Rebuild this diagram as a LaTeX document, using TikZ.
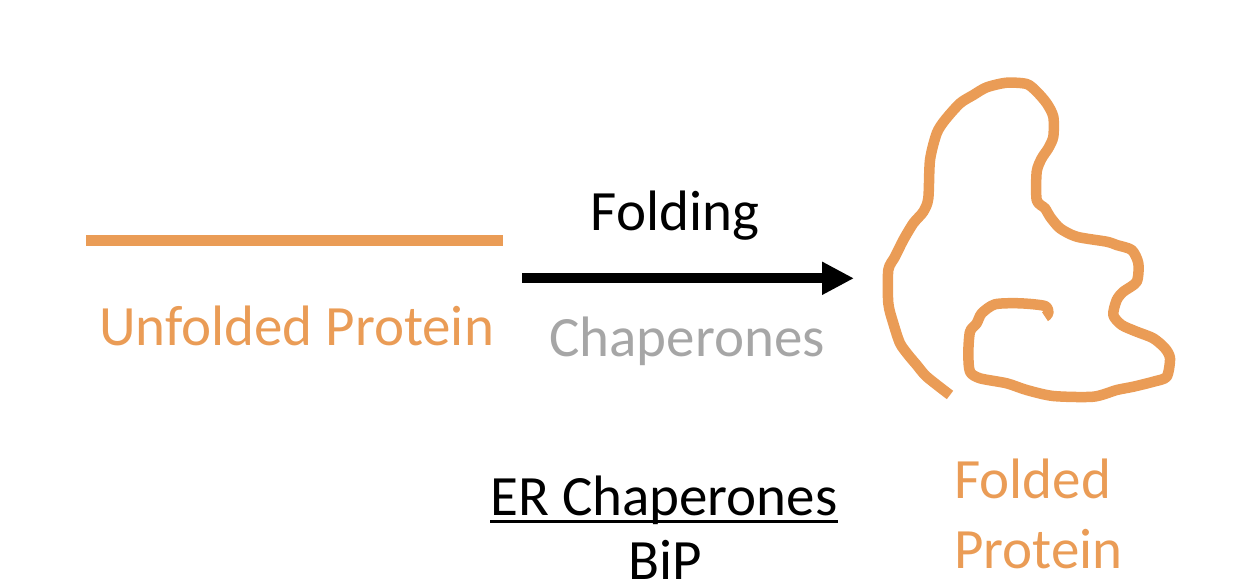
\documentclass[tikz,border=0pt]{standalone}
\usepackage{fontspec}
\setmainfont{Carlito}
\usetikzlibrary{arrows.meta}
\definecolor{protorange}{RGB}{234,156,86}
\definecolor{chapgray}{RGB}{166,166,166}
\tikzset{
  bigtext/.style={inner sep=0pt, font=\fontsize{57}{68}\selectfont},
  protein/.style={draw=protorange, line width=10.5pt, line join=round},
  reaction/.style={draw=black, line width=10pt, -{Triangle[length=32pt,width=31pt]}},
}
\begin{document}
\begin{tikzpicture}[x=1pt,y=-1pt]
\useasboundingbox (0,0) rectangle (1238,584);
% unfolded protein
\coordinate (u1) at (86,240.4);
\coordinate (u2) at (502.7,240.4);
\draw[protein] (u1) -- (u2);
\node[bigtext, text=protorange, anchor=base] (unf) at (296.5,345) {Unfolded Protein};
% reaction arrow
\coordinate (a1) at (522,278.3);
\coordinate (a2) at (854,278.3);
\draw[reaction] (a1) -- (a2);
\node[bigtext, anchor=base] (fold) at (675,230) {Folding};
\node[bigtext, text=chapgray, anchor=base] (chap) at (687,356.7) {Chaperones};
% ER chaperones
\node[bigtext, anchor=base] (er) at (664,515) {ER Chaperones};
\draw[line width=3pt] ([yshift=-6.5pt]er.base west) -- ([yshift=-6.5pt]er.base east);
\node[bigtext, anchor=base] (bip) at (665,579) {BiP};
% folded protein
\draw[protein] plot[smooth, tension=0.45] coordinates {
(950,395) (926.7,376.7) (916.7,365) (908.3,355) (900,343.3) (893.3,323.3)
(888.3,303.3) (888.3,270) (895,256.7) (903.3,240) (913.3,223.3) (923.3,211.7)
(928.3,198.3) (930,160) (936.7,133.3) (945,120) (960,103.3) (973.3,95)
(986.7,87.3) (1006.7,82.7) (1026.7,84) (1036.7,91.7) (1046.7,103.3)
(1053.3,116.7) (1053.3,136.7) (1048.3,148.3) (1041.7,158.3) (1036.7,171.7)
(1036.7,200) (1045,208.3) (1050,216.7) (1060,228.3) (1076.7,236.7)
(1106.7,241.7) (1116.7,245) (1131.7,250) (1138.3,263.3) (1136.7,281.7)
(1123.3,291.7) (1116.7,300) (1113.3,315) (1121.7,325) (1136.7,331.7)
(1153.3,338.3) (1165,348.3) (1170,358.3) (1166.7,376.7) (1153.3,381.7)
(1133.3,386.7) (1116.7,390) (1093.3,396.7) (1053.3,396) (1026.7,390)
(1006.7,383.3) (980,378.3) (970,371.7) (968.3,353.3) (970,331.7)
(976.7,323.3) (981.7,313.3) (995,304.3) (1020,303.3) (1045,306)
(1048.3,313.3) (1045,316.7)};
\node[bigtext, text=protorange, anchor=base west] (fp1) at (954,498.3) {Folded};
\node[bigtext, text=protorange, anchor=base west] (fp2) at (954,568.3) {Protein};
\end{tikzpicture}
\end{document}
